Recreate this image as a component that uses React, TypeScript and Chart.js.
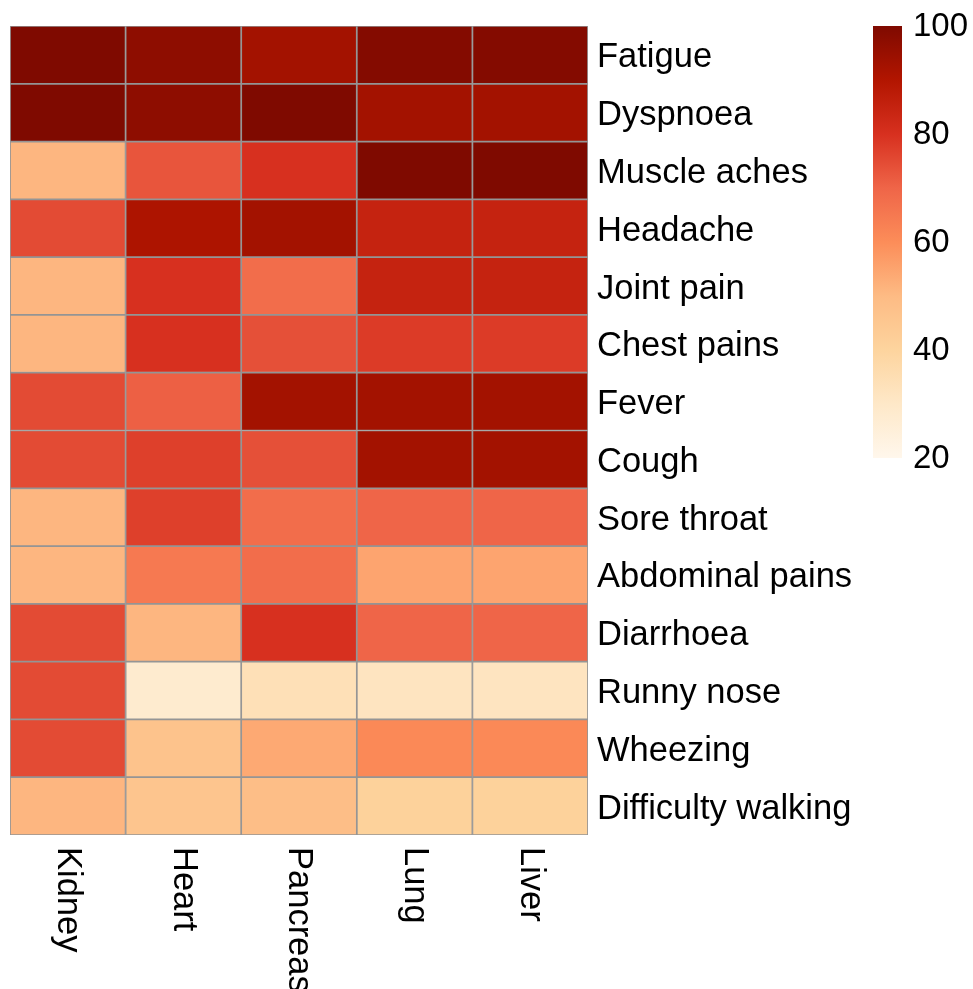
import React, { useEffect, useRef } from 'react';
import { Chart, registerables } from 'chart.js';

Chart.register(...registerables);

const symptoms = [
  'Fatigue',
  'Dyspnoea',
  'Muscle aches',
  'Headache',
  'Joint pain',
  'Chest pains',
  'Fever',
  'Cough',
  'Sore throat',
  'Abdominal pains',
  'Diarrhoea',
  'Runny nose',
  'Wheezing',
  'Difficulty walking',
];

const organs = ['Kidney', 'Heart', 'Pancreas', 'Lung', 'Liver'];

const kidney = [100, 100, 51, 75, 51, 51, 75, 75, 51, 51, 75, 75, 75, 51];
const heart = [97, 97, 73, 91, 80, 80, 71, 77, 77, 65, 51, 28, 47, 46];
const pancreas = [93, 100, 80, 93, 68, 74, 93, 74, 68, 68, 80, 34, 54, 49];
const lung = [99, 93, 100, 85, 85, 78, 93, 93, 70, 55, 70, 32, 61, 41];
const liver = [99, 93, 100, 85, 85, 78, 93, 93, 70, 55, 70, 32, 61, 41];

const organValues = [kidney, heart, pancreas, lung, liver];

const legendTicks = [20, 40, 60, 80, 100];
const colorMin = 20;
const colorMax = 100;
const palette = ['#FFF7EC', '#FEE8C8', '#FDD49E', '#FDBB84', '#FC8D59', '#EF6548', '#D7301F', '#B21500', '#7F0A00'];

const FONT = '"Liberation Sans", Arial, Helvetica, sans-serif';

function hexToRgb(h: string): number[] {
  const s = h.replace('#', '');
  return [0, 2, 4].map((i) => parseInt(s.slice(i, i + 2), 16));
}

function colorFor(v: number): string {
  const t = Math.max(0, Math.min(1, (v - colorMin) / (colorMax - colorMin))) * (palette.length - 1);
  const i = Math.min(palette.length - 2, Math.floor(t));
  const f = t - i;
  const a = hexToRgb(palette[i]);
  const b = hexToRgb(palette[i + 1]);
  const c = a.map((x, k) => Math.round(x + (b[k] - x) * f));
  return `rgb(${c[0]},${c[1]},${c[2]})`;
}

const overlayPlugin = {
  id: 'heatOverlay',
  afterDraw(chart: any) {
    const ctx = chart.ctx as CanvasRenderingContext2D;
    const xs = chart.scales.x;
    const area = chart.chartArea;
    ctx.save();
    // column labels, rotated to read top-to-bottom
    ctx.font = `34.5px ${FONT}`;
    ctx.fillStyle = '#000';
    ctx.textAlign = 'left';
    ctx.textBaseline = 'middle';
    organs.forEach((name, j) => {
      const x = xs.getPixelForValue(j + 0.5);
      ctx.save();
      ctx.translate(x, area.bottom + 12);
      ctx.rotate(Math.PI / 2);
      ctx.fillText(name, 0, 0);
      ctx.restore();
    });
    // colour bar legend
    const left = 873;
    const right = 902;
    const top = 26;
    const bottom = 458;
    const grad = ctx.createLinearGradient(0, bottom, 0, top);
    palette.forEach((c, i) => grad.addColorStop(i / (palette.length - 1), c));
    ctx.fillStyle = grad;
    ctx.fillRect(left, top, right - left, bottom - top);
    ctx.font = `33px ${FONT}`;
    ctx.fillStyle = '#000';
    ctx.textAlign = 'left';
    ctx.textBaseline = 'middle';
    legendTicks.forEach((v) => {
      const y = bottom - ((v - colorMin) / (colorMax - colorMin)) * (bottom - top);
      ctx.fillText(String(v), 913, y + 1);
    });
    ctx.restore();
  },
};

export default function App() {
  const canvasRef = useRef<HTMLCanvasElement | null>(null);

  useEffect(() => {
    if (!canvasRef.current) return;
    const datasets = organs.map((o, j) => ({
      label: o,
      data: symptoms.map(() => [j, j + 1]),
      backgroundColor: organValues[j].map(colorFor),
      borderColor: '#959595',
      borderWidth: 1.2,
      borderSkipped: false,
      grouped: false,
      barPercentage: 1,
      categoryPercentage: 1,
    }));
    const chart = new Chart(canvasRef.current, {
      type: 'bar',
      data: { labels: symptoms, datasets: datasets as any },
      plugins: [overlayPlugin],
      options: {
        indexAxis: 'y',
        responsive: false,
        animation: false,
        layout: { padding: { left: 10, top: 26, bottom: 154, right: 0 } },
        plugins: {
          legend: { display: false },
          tooltip: { enabled: false },
        },
        scales: {
          x: {
            type: 'linear',
            min: 0,
            max: organs.length,
            display: false,
          },
          y: {
            type: 'category',
            position: 'right',
            grid: { display: false, drawTicks: false },
            border: { display: false },
            ticks: {
              autoSkip: false,
              color: '#000',
              padding: 9,
              labelOffset: 3,
              font: { size: 34.5, family: FONT },
            },
            afterFit(scale: any) {
              scale.width = 385;
              scale.paddingTop = 0;
              scale.paddingBottom = 0;
            },
          },
        },
      } as any,
    });
    return () => chart.destroy();
  }, []);

  return (
    <div style={{ position: 'absolute', left: 0, top: 0, width: 973, height: 989, background: '#fff' }}>
      <canvas ref={canvasRef} width={973} height={989} style={{ display: 'block' }} />
    </div>
  );
}
